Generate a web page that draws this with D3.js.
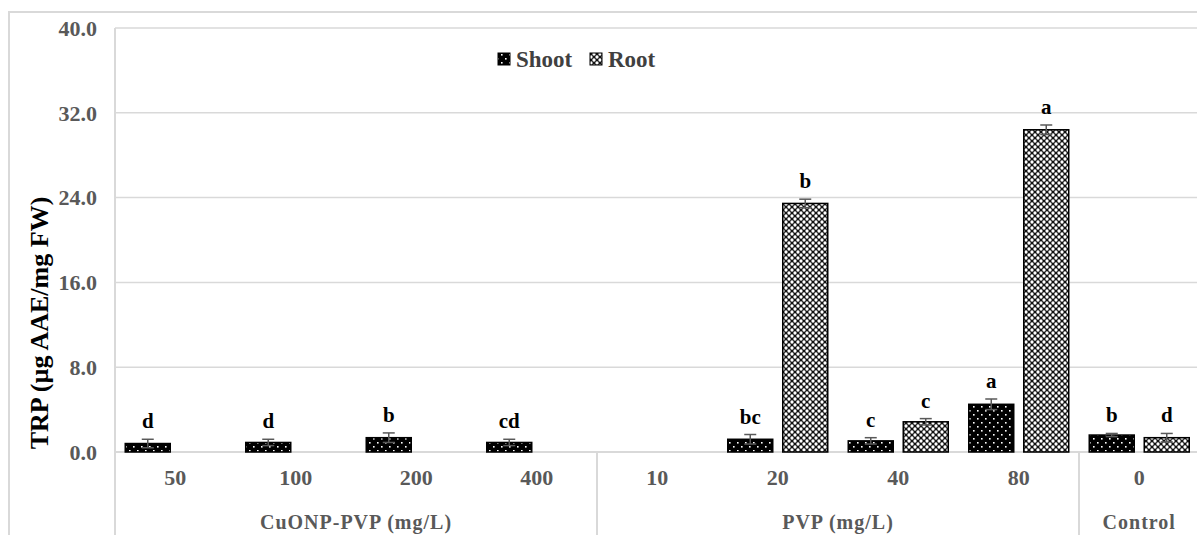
<!DOCTYPE html>
<html>
<head>
<meta charset="utf-8">
<script src="https://cdn.jsdelivr.net/npm/d3@7"></script>
<style>
  body { margin: 0; background: #fff; }
  svg { display: block; font-family: "Liberation Serif", "Times New Roman", serif; font-weight: bold; }
</style>
</head>
<body>
<svg id="chart" width="1197" height="535"></svg>
<script>
// categories and groups (multi-level x axis)
var categories = ["50", "100", "200", "400", "10", "20", "40", "80", "0"];
var groupNames = ["CuONP-PVP (mg/L)", "PVP (mg/L)", "Control"];
var groupSizes = [4, 4, 1];

// series values (µg AAE/mg FW)
var shoot    = [0.8, 0.9, 1.35, 0.9, 0, 1.2, 1.05, 4.5, 1.6];
var shootErr = [0.4, 0.3, 0.45, 0.3, 0, 0.45, 0.3, 0.5, 0.15];
var root     = [0, 0, 0, 0, 0, 23.45, 2.85, 30.4, 1.35];
var rootErr  = [0, 0, 0, 0, 0, 0.4, 0.3, 0.45, 0.4];
var shootLetters = ["d", "d", "b", "cd", "", "bc", "c", "a", "b"];
var rootLetters  = ["", "", "", "", "", "b", "c", "a", "d"];

var yTicks = [0, 8, 16, 24, 32, 40];

var svg = d3.select("#chart");

var plotLeft = 115, plotRight = 1199.5, plotTop = 28, base = 452;

var x = d3.scaleBand().domain(categories).range([plotLeft, plotRight]);
var xs = d3.scaleBand().domain(["Shoot", "Root"]).range([0, x.bandwidth()])
    .paddingInner(10 / 55).paddingOuter(10.25 / 55);
var y = d3.scaleLinear().domain([0, 40]).range([base, plotTop]);

// patterns
var defs = svg.append("defs");
var pShoot = defs.append("pattern").attr("id", "pShoot")
    .attr("patternUnits", "userSpaceOnUse").attr("width", 8).attr("height", 8);
pShoot.append("rect").attr("width", 8).attr("height", 8).attr("fill", "#000");
pShoot.append("rect").attr("x", 1).attr("y", 2).attr("width", 1.6).attr("height", 1.6).attr("fill", "#fff");
pShoot.append("rect").attr("x", 5).attr("y", 6).attr("width", 1.6).attr("height", 1.6).attr("fill", "#fff");

// root: white dots on a dark diagonal lattice
var pRoot = defs.append("pattern").attr("id", "pRoot")
    .attr("patternUnits", "userSpaceOnUse").attr("width", 6).attr("height", 6);
pRoot.append("rect").attr("width", 6).attr("height", 6).attr("fill", "#111");
[[0, 0], [6, 0], [0, 6], [6, 6], [3, 3]].forEach(function(p) {
  pRoot.append("circle").attr("cx", p[0]).attr("cy", p[1]).attr("r", 1.65).attr("fill", "#fff");
});

// outer chart border
svg.append("rect").attr("x", 9).attr("y", 12).attr("width", 1250).attr("height", 600)
    .attr("fill", "none").attr("stroke", "#d9d9d9").attr("stroke-width", 2);

// gridlines
svg.append("g").selectAll("line")
  .data(yTicks.filter(function(d) { return d > 0; }))
  .enter().append("line")
    .attr("x1", plotLeft).attr("x2", 1197)
    .attr("y1", function(d) { return y(d); }).attr("y2", function(d) { return y(d); })
    .attr("stroke", "#d9d9d9").attr("stroke-width", 1.5);

// y tick labels
svg.append("g").selectAll("text")
  .data(yTicks)
  .enter().append("text")
    .attr("x", 97).attr("y", function(d) { return y(d); })
    .attr("dy", "0.35em").attr("text-anchor", "end")
    .attr("font-size", 22).attr("fill", "#595959")
    .text(function(d) { return d3.format(".1f")(d); });

// y title
svg.append("text")
  .attr("transform", "translate(48,323) rotate(-90)")
  .attr("text-anchor", "middle").attr("font-size", 26).attr("fill", "#000")
  .text("TRP  (µg AAE/mg FW)");

// axis lines: left edge, baseline, group separators
var bounds = [0];
groupSizes.forEach(function(n, i) { bounds.push(bounds[i] + n); });
svg.append("line").attr("x1", plotLeft).attr("x2", 1197).attr("y1", base).attr("y2", base)
    .attr("stroke", "#d9d9d9").attr("stroke-width", 2);
svg.append("g").selectAll("line")
  .data(bounds)
  .enter().append("line")
    .attr("x1", function(b) { return plotLeft + b * x.step(); })
    .attr("x2", function(b) { return plotLeft + b * x.step(); })
    .attr("y1", function(b) { return b === 0 ? plotTop : base; })
    .attr("y2", 535)
    .attr("stroke", "#d9d9d9").attr("stroke-width", 2);

// category labels
svg.append("g").selectAll("text")
  .data(categories)
  .enter().append("text")
    .attr("x", function(d) { return x(d) + x.bandwidth() / 2; })
    .attr("y", 485).attr("text-anchor", "middle")
    .attr("font-size", 22).attr("fill", "#595959")
    .text(function(d) { return d; });

// group labels
svg.append("g").selectAll("text")
  .data(groupNames)
  .enter().append("text")
    .attr("x", function(d, i) { return plotLeft + (bounds[i] + bounds[i + 1]) / 2 * x.step(); })
    .attr("y", 529).attr("text-anchor", "middle")
    .attr("font-size", 20).attr("letter-spacing", 1).attr("fill", "#595959")
    .text(function(d) { return d; });

// bars
var series = [
  { key: "Shoot", values: shoot, err: shootErr, letters: shootLetters, fill: "url(#pShoot)" },
  { key: "Root", values: root, err: rootErr, letters: rootLetters, fill: "url(#pRoot)" }
];

series.forEach(function(s) {
  var data = categories.map(function(c, i) {
    return { cat: c, v: s.values[i], e: s.err[i], l: s.letters[i] };
  }).filter(function(d) { return d.v > 0; });

  var g = svg.append("g");
  var bx = function(d) { return x(d.cat) + xs(s.key); };

  g.selectAll("rect")
    .data(data)
    .enter().append("rect")
      .attr("x", bx)
      .attr("y", function(d) { return y(d.v); })
      .attr("width", xs.bandwidth())
      .attr("height", function(d) { return base - y(d.v); })
      .attr("fill", s.fill)
      .attr("stroke", "#000").attr("stroke-width", 1.5);

  var cx = function(d) { return bx(d) + xs.bandwidth() / 2; };
  var eb = g.selectAll(".err").data(data).enter().append("g").attr("class", "err")
      .attr("stroke", "#595959").attr("stroke-width", 1.5);
  eb.append("line")
      .attr("x1", cx).attr("x2", cx)
      .attr("y1", function(d) { return y(d.v + d.e); })
      .attr("y2", function(d) { return y(Math.max(0, d.v - d.e)); });
  eb.append("line")
      .attr("x1", function(d) { return cx(d) - 6; }).attr("x2", function(d) { return cx(d) + 6; })
      .attr("y1", function(d) { return y(d.v + d.e); }).attr("y2", function(d) { return y(d.v + d.e); });
  eb.append("line")
      .attr("x1", function(d) { return cx(d) - 6; }).attr("x2", function(d) { return cx(d) + 6; })
      .attr("y1", function(d) { return y(Math.max(0, d.v - d.e)); })
      .attr("y2", function(d) { return y(Math.max(0, d.v - d.e)); });

  g.selectAll(".lbl")
    .data(data)
    .enter().append("text")
      .attr("class", "lbl")
      .attr("x", cx)
      .attr("y", function(d) { return y(d.v + d.e) - 11; })
      .attr("text-anchor", "middle").attr("font-size", 21).attr("fill", "#000")
      .text(function(d) { return d.l; });
});

// legend
var legend = svg.append("g");
var legendItems = [
  { key: "Shoot", fill: "url(#pShoot)", x: 498 },
  { key: "Root", fill: "url(#pRoot)", x: 590 }
];
legendItems.forEach(function(it) {
  legend.append("rect").attr("x", it.x).attr("y", 53).attr("width", 12).attr("height", 12)
      .attr("fill", it.fill).attr("stroke", "#000").attr("stroke-width", 1);
  legend.append("text").attr("x", it.x + 18).attr("y", 67)
      .attr("font-size", 23).attr("fill", "#404040").text(it.key);
});
</script>
</body>
</html>
